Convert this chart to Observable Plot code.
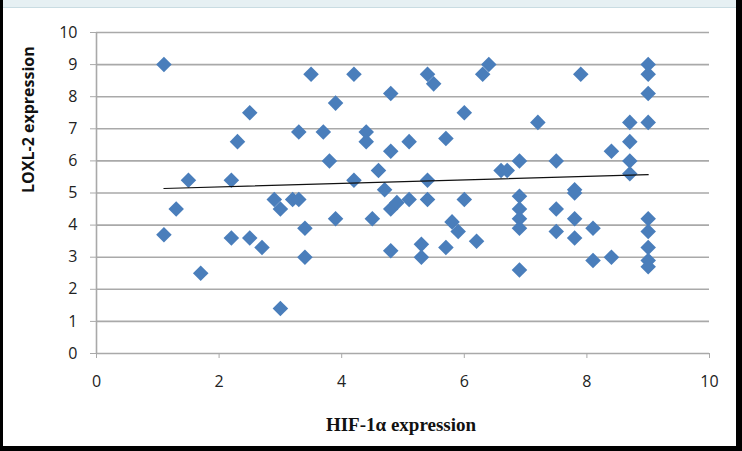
<!DOCTYPE html>
<html>
<head>
<meta charset="utf-8">
<script src="https://cdn.jsdelivr.net/npm/d3@7"></script>
<script src="https://cdn.jsdelivr.net/npm/@observablehq/plot@0.6"></script>
<style>
  html, body { margin: 0; padding: 0; background: #fff; }
  #wrap { position: relative; width: 742px; height: 451px; overflow: hidden; background: #fff; }
  #topbar { position: absolute; left: 0; top: 0; width: 742px; height: 7px; background: #e6f0f3; border-bottom: 1px solid #c9dce2; }
  #lb { position: absolute; left: 0; top: 0; width: 3px; height: 451px; background: #000; }
  #rb { position: absolute; right: 0; top: 0; width: 6px; height: 451px; background: #000; }
  #bb { position: absolute; left: 0; bottom: 0; width: 742px; height: 5px; background: #000; }
  #chart { position: absolute; left: 0; top: 0; }
</style>
</head>
<body>
<div id="wrap">
  <div id="chart"></div>
  <div id="topbar"></div>
  <div id="lb"></div>
  <div id="rb"></div>
  <div id="bb"></div>
</div>
<script>
const hifX = [1.1,1.1,1.3,1.5,1.7,2.2,2.2,2.3,2.5,2.5,2.7,2.9,3.0,3.0,3.2,3.3,3.3,3.4,3.4,3.5,3.7,3.8,3.9,3.9,4.2,4.2,4.4,4.4,4.5,4.6,4.7,4.8,4.8,4.8,4.8,4.9,5.1,5.1,5.3,5.3,5.4,5.4,5.4,5.5,5.7,5.7,5.8,5.9,6.0,6.0,6.2,6.3,6.4,6.6,6.7,6.9,6.9,6.9,6.9,6.9,6.9,7.2,7.5,7.5,7.5,7.8,7.8,7.8,7.8,7.9,8.1,8.1,8.4,8.4,8.7,8.7,8.7,8.7,9,9,9,9,9,9,9,9,9];
const loxY = [9.0,3.7,4.5,5.4,2.5,5.4,3.6,6.6,7.5,3.6,3.3,4.8,4.5,1.4,4.8,4.8,6.9,3.9,3.0,8.7,6.9,6.0,7.8,4.2,8.7,5.4,6.9,6.6,4.2,5.7,5.1,6.3,8.1,4.5,3.2,4.7,6.6,4.8,3.4,3.0,8.7,5.4,4.8,8.4,6.7,3.3,4.1,3.8,4.8,7.5,3.5,8.7,9.0,5.7,5.7,6.0,4.9,4.5,4.2,3.9,2.6,7.2,6.0,4.5,3.8,5.1,5.0,4.2,3.6,8.7,3.9,2.9,3.0,6.3,7.2,6.6,6.0,5.6,9.0,8.7,8.1,7.2,4.2,3.8,3.3,2.9,2.7];
// linear trendline at its two ends
const trendX = [1.1, 9.0];
const trendY = [5.14, 5.57];
const xTicks = [0,2,4,6,8,10];
const yTicks = [0,1,2,3,4,5,6,7,8,9,10];
const xLabel = "HIF-1α expression";
const yLabel = "LOXL-2 expression";

const data = hifX.map((x, i) => ({x, y: loxY[i]}));
const trend = trendX.map((x, i) => ({x, y: trendY[i]}));

const chart = Plot.plot({
  width: 742,
  height: 451,
  marginLeft: 96,
  marginRight: 33,
  marginTop: 32,
  marginBottom: 98,
  style: {fontFamily: "'Open Sans', sans-serif", background: "transparent"},
  x: {domain: [0, 10]},
  y: {domain: [0, 10]},
  marks: [
    Plot.gridY(yTicks, {stroke: "#a9a9a9", strokeOpacity: 1, strokeWidth: 1.6}),
    Plot.ruleX([0], {stroke: "#a9a9a9", strokeWidth: 1.6}),
    Plot.axisY(yTicks, {tickSize: 6, tickPadding: 13, fontSize: 16, stroke: "#a9a9a9", fill: "#222", label: null, tickFormat: d => String(d)}),
    Plot.axisX(xTicks, {tickSize: 5, tickPadding: 17, fontSize: 16, stroke: "#a9a9a9", fill: "#222", label: null, tickFormat: d => String(d)}),
    Plot.dot(data, {x: "x", y: "y", symbol: "diamond2", r: 7, fill: "#4a7ebb", stroke: "none"}),
    Plot.line(trend, {x: "x", y: "y", stroke: "#111", strokeWidth: 1.2}),
    Plot.text([yLabel], {frameAnchor: "left", dx: -68, rotate: -90, fontSize: 16, fontWeight: "bold", fill: "#111"}),
    Plot.text([xLabel], {frameAnchor: "bottom", dy: 77, dx: -2, fontSize: 19, fontWeight: "bold", fill: "#111", fontFamily: "'Liberation Serif', serif"})
  ]
});
document.getElementById("chart").appendChild(chart);
</script>
</body>
</html>
